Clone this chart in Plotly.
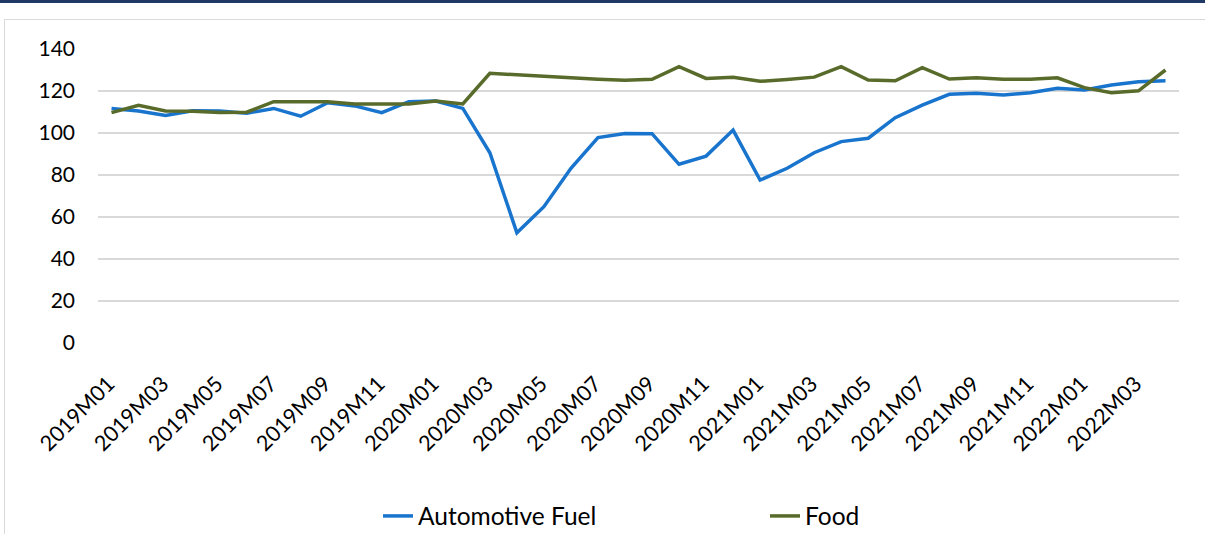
import plotly.graph_objects as go

months = [f"{y}M{m:02d}" for y in (2019, 2020, 2021, 2022) for m in range(1, 13)][:40]

fuel = [111.7, 110.5, 108.4, 110.6, 110.5, 109.4, 111.7, 108.0, 114.4, 112.9,
        109.7, 114.9, 115.2, 111.7, 90.6, 52.5, 64.9, 83.2, 97.8, 99.8,
        99.7, 85.1, 89.0, 101.4, 77.6, 83.2, 90.6, 95.9, 97.5, 107.3,
        113.3, 118.4, 118.9, 118.1, 119.2, 121.3, 120.5, 122.9, 124.4, 124.9]

food = [109.7, 113.2, 110.5, 110.4, 109.8, 109.9, 114.9, 114.8, 114.9, 113.8,
        113.8, 113.8, 115.2, 113.8, 128.4, 127.6, 127.0, 126.0, 125.6, 125.1,
        125.6, 131.6, 126.0, 126.5, 124.6, 125.5, 126.6, 131.6, 125.2, 124.9,
        131.1, 125.7, 126.3, 125.6, 125.6, 126.3, 121.6, 119.2, 120.1, 130.0]

tick_labels = months[::2]

BLUE = "#1874CD"
GREEN = "#586B2A"
FONT = "Lato"

W, H = 1205, 534
L, R, T, B = 98, 1179, 49, 343


def px_x(p):
    return (p - L) / (R - L)


def px_y(p):
    return (B - p) / (B - T)


fig = go.Figure()
fig.add_trace(go.Scatter(x=months, y=fuel, mode="lines", name="Automotive Fuel",
                         line=dict(color=BLUE, width=3.5)))
fig.add_trace(go.Scatter(x=months, y=food, mode="lines", name="Food",
                         line=dict(color=GREEN, width=3.5)))

fig.update_layout(
    width=W, height=H,
    margin=dict(l=L, r=W - R, t=T, b=H - B, autoexpand=False),
    paper_bgcolor="white", plot_bgcolor="white",
    font=dict(family=FONT, size=21, color="#000000"),
    showlegend=True,
    legend=dict(orientation="h", x=px_x(378), xanchor="left", y=px_y(516), yanchor="middle",
                entrywidth=342, entrywidthmode="pixels",
                font=dict(family=FONT, size=24.5, color="#000000"), bgcolor="rgba(0,0,0,0)"),
    shapes=[
        dict(type="rect", xref="paper", yref="paper", x0=px_x(-5), x1=px_x(1210),
             y0=px_y(-2), y1=px_y(3), fillcolor="#1F3864", line=dict(width=0), layer="below"),
        dict(type="rect", xref="paper", yref="paper", x0=px_x(4.5), x1=px_x(1260),
             y0=px_y(19.5), y1=px_y(600), fillcolor="rgba(0,0,0,0)",
             line=dict(color="#D9D9D9", width=1), layer="below"),
    ],
)

fig.update_xaxes(
    type="category", categoryorder="array", categoryarray=months,
    tickmode="array", tickvals=tick_labels, ticktext=tick_labels,
    tickangle=-45, showgrid=False, showline=False, ticks="", zeroline=False,
    tickfont=dict(family=FONT, size=21.5, color="#000000"),
    ticklabelstandoff=23, ticklabelshift=-3,
    range=[-0.5, len(months) - 0.5], automargin=False,
)
fig.update_yaxes(
    range=[0, 140], tickvals=[0, 20, 40, 60, 80, 100, 120, 140],
    showgrid=True, gridcolor="#D9D9D9", gridwidth=1.5, zeroline=False,
    showline=False, ticks="", ticklabelstandoff=22, automargin=False,
    tickfont=dict(family=FONT, size=21, color="#000000"),
)

fig.write_html(
    "out.html",
    config={"displayModeBar": False},
    post_script="document.body.style.margin='0';document.body.style.overflow='hidden';",
)
